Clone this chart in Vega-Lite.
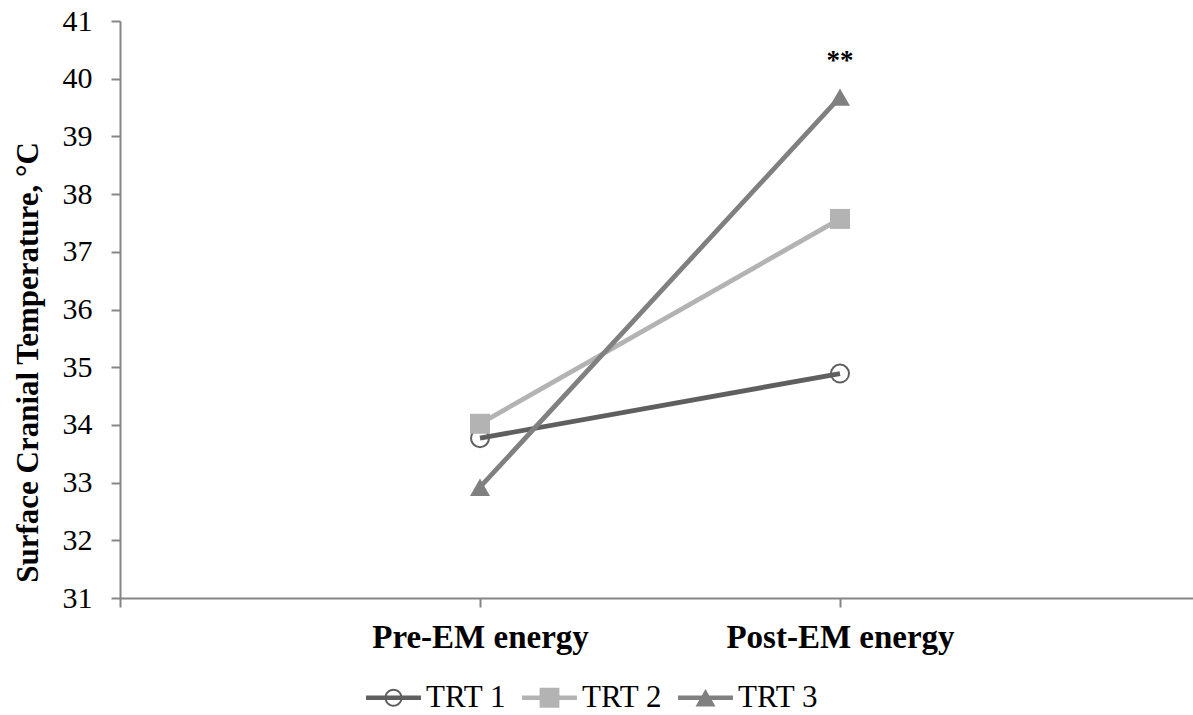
{
  "$schema": "https://vega.github.io/schema/vega-lite/v6.json",
  "width": 1073,
  "height": 577,
  "autosize": {"type": "none"},
  "padding": {"left": 120, "top": 21, "right": 0, "bottom": 117},
  "background": "white",
  "config": {"view": {"stroke": null}},
  "data": {
    "values": [
      {"trt": "TRT 1", "phase": "Pre-EM energy", "temp": 33.77, "sig": ""},
      {"trt": "TRT 1", "phase": "Post-EM energy", "temp": 34.89, "sig": ""},
      {"trt": "TRT 2", "phase": "Pre-EM energy", "temp": 34.02, "sig": ""},
      {"trt": "TRT 2", "phase": "Post-EM energy", "temp": 37.57, "sig": ""},
      {"trt": "TRT 3", "phase": "Pre-EM energy", "temp": 32.92, "sig": ""},
      {"trt": "TRT 3", "phase": "Post-EM energy", "temp": 39.68, "sig": "**"}
    ]
  },
  "encoding": {
    "x": {
      "field": "phase",
      "type": "nominal",
      "sort": null,
      "scale": {"type": "point", "domain": [" ", "Pre-EM energy", "Post-EM energy", "  "], "range": [0, 1080], "padding": 0},
      "axis": {
        "title": null,
        "grid": false,
        "labelAngle": 0,
        "labelLimit": 0,
        "labelOverlap": false,
        "domainColor": "#868686",
        "domainWidth": 2,
        "tickColor": "#868686",
        "tickWidth": 2,
        "tickSize": 9,
        "labelFont": "Liberation Serif",
        "labelFontSize": 33,
        "labelFontWeight": "bold",
        "labelColor": "black",
        "labelPadding": 14
      }
    },
    "y": {
      "field": "temp",
      "type": "quantitative",
      "scale": {"domain": [31, 41], "zero": false, "nice": false},
      "axis": {
        "title": "Surface Cranial Temperature, °C",
        "values": [31, 32, 33, 34, 35, 36, 37, 38, 39, 40, 41],
        "grid": false,
        "domainColor": "#868686",
        "domainWidth": 2,
        "tickColor": "#868686",
        "tickWidth": 2,
        "tickSize": 9,
        "labelFont": "Liberation Serif",
        "labelFontSize": 30,
        "labelColor": "black",
        "labelPadding": 19,
        "titleFont": "Liberation Serif",
        "titleFontSize": 31,
        "titleFontWeight": "bold",
        "titleColor": "black",
        "titleX": -92,
        "titleY": 341,
        "titleAngle": 270,
        "titleAlign": "center",
        "titleBaseline": "middle"
      }
    }
  },
  "layer": [
    {
      "mark": {"type": "line", "strokeWidth": 4.8},
      "encoding": {
        "color": {
          "field": "trt",
          "type": "nominal",
          "scale": {"domain": ["TRT 1", "TRT 2", "TRT 3"], "range": ["#5f5f5f", "#b3b3b3", "#808080"]},
          "legend": {
            "orient": "none",
            "legendX": 258,
            "legendY": 661,
            "direction": "horizontal",
            "title": null,
            "padding": 0,
            "labelFont": "Liberation Serif",
            "labelFontSize": 31,
            "labelColor": "black",
            "symbolSize": 324,
            "symbolStrokeWidth": 0,
            "labelOffset": 17,
            "columnPadding": 16,
            "encode": {
              "symbols": {
                "update": {
                  "shape": {"signal": "datum.value === 'TRT 1' ? 'M-3.05,-0.26H3.05V0.26H-3.05ZM1,0A1,1 0 1,1 -1,0A1,1 0 1,1 1,0ZM0.78,0A0.78,0.78 0 1,0 -0.78,0A0.78,0.78 0 1,0 0.78,0Z' : datum.value === 'TRT 2' ? 'M-3.05,-0.26H3.05V0.26H-3.05ZM-1.1,-1.1H1.1V1.1H-1.1Z' : 'M-3.05,-0.26H3.05V0.26H-3.05ZM0,-0.96L1.11,0.96H-1.11Z'"},
                  "fill": {"scale": "color", "field": "value"},
                  "stroke": {"value": "transparent"},
                  "opacity": {"value": 1}
                }
              }
            }
          }
        }
      }
    },
    {
      "transform": [{"filter": "datum.trt === 'TRT 1'"}],
      "mark": {"type": "point", "shape": "circle", "filled": false, "stroke": "#5f5f5f", "strokeWidth": 2, "size": 324, "opacity": 1}
    },
    {
      "transform": [{"filter": "datum.trt !== 'TRT 1'"}],
      "mark": {"type": "point", "filled": true, "size": 400, "opacity": 1},
      "encoding": {
        "color": {"field": "trt", "type": "nominal"},
        "shape": {
          "field": "trt",
          "type": "nominal",
          "scale": {"domain": ["TRT 2", "TRT 3"], "range": ["square", "triangle-up"]},
          "legend": null
        }
      }
    },
    {
      "transform": [{"filter": "datum.sig !== ''"}],
      "mark": {"type": "text", "font": "Liberation Serif", "fontSize": 27, "fontWeight": "bold", "color": "black", "baseline": "alphabetic", "dy": -28},
      "encoding": {"text": {"field": "sig"}}
    }
  ]
}
